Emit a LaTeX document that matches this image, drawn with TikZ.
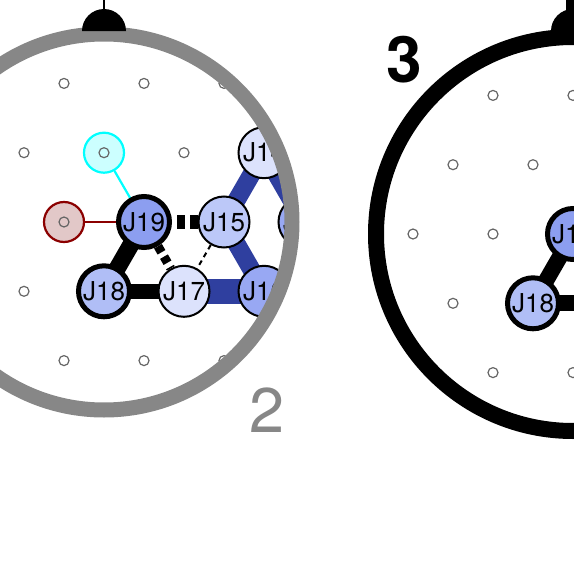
\documentclass[tikz,border=0pt]{standalone}
\usepackage{fontspec}
\setmainfont{TeX Gyre Heros}
\definecolor{ringgray}{HTML}{878787}
\definecolor{dotgray}{HTML}{666666}
\definecolor{edgeblue}{HTML}{2F3F9F}
\definecolor{nmid}{HTML}{8C9EF0}
\definecolor{nmidb}{HTML}{98A8F3}
\definecolor{nlight}{HTML}{B0BEF6}
\definecolor{nlighter}{HTML}{BCC8F8}
\definecolor{npale}{HTML}{DCE2FC}
\definecolor{cyanline}{HTML}{00FFFF}
\definecolor{cyanfill}{HTML}{CCFFFF}
\definecolor{redfill}{HTML}{E2C8C8}
\definecolor{darkred}{HTML}{8B0000}
\begin{document}
\begin{tikzpicture}[x=1pt,y=-1pt,
  jnode/.style={circle, draw=black, line width=2pt, minimum size=51pt, inner sep=0pt, font=\fontsize{26}{26}\selectfont},
  jbold/.style={jnode, line width=5pt},
  gdot/.style={draw=dotgray, line width=1.2pt},
  markcyan/.style={circle, draw=cyanline, fill=cyanfill, line width=2.2pt, minimum size=40pt, inner sep=0pt},
  markred/.style={circle, draw=darkred, fill=redfill, line width=2.2pt, minimum size=40pt, inner sep=0pt},
  blueedge/.style={draw=edgeblue, line width=18pt},
  blackedge/.style={draw=black, line width=16pt},
  dashedge/.style={draw=black, line width=14pt, dash pattern=on 8pt off 5pt, dash phase=8pt},
  dashmid/.style={draw=black, line width=9pt, dash pattern=on 7pt off 5pt},
  dashthin/.style={draw=black, line width=2pt, dash pattern=on 5pt off 4pt},
  bigtext/.style={inner sep=0pt, font=\fontsize{63}{63}\selectfont}
]
\useasboundingbox (0,0) rectangle (574,573);
\clip (0,0) rectangle (574,573);

% ---------- left panel ----------
\begin{scope}
  \clip (104,222) circle[radius=186pt];
  \node[markcyan] (cy) at (104,152.7) {};
  \node[markred] (rd) at (64,222) {};
  \foreach \x in {64,144,224} {\draw[gdot] (\x,83.4) circle[radius=5pt]; \draw[gdot] (\x,360.6) circle[radius=5pt];}
  \foreach \x in {24,104,184,264} {\draw[gdot] (\x,152.7) circle[radius=5pt]; \draw[gdot] (\x,291.3) circle[radius=5pt];}
  \foreach \x in {-16,64,144,224,304} {\draw[gdot] (\x,222) circle[radius=5pt];}
  \coordinate (pJ19) at (144,222);
  \coordinate (pJ15) at (224,222);
  \coordinate (pJ14) at (264,152.7);
  \coordinate (pJ20) at (304,222);
  \coordinate (pJ18) at (104,291.3);
  \coordinate (pJ17) at (184,291.3);
  \coordinate (pJ16) at (264,291.3);
  % edges
  \draw[blueedge] (pJ14) -- (pJ15);
  \draw[blueedge] (pJ14) -- (pJ20);
  \draw[blueedge] (pJ15) -- (pJ16);
  \draw[blueedge, line width=25pt] (pJ17) -- (pJ16);
  \draw[blackedge, line width=17pt] (pJ19) -- (pJ18);
  \draw[blackedge, line width=15pt] (pJ18) -- (pJ17);
  \draw[cyanline, line width=2.2pt] (cy) -- (pJ19);
  \draw[darkred, line width=1.8pt] (rd) -- (pJ19);
  % nodes
  \node[jnode, fill=npale] (J14) at (pJ14) {J14};
  \node[jnode, fill=nmidb] (J20) at (pJ20) {J20};
  \node[jnode, fill=nmidb] (J16) at (pJ16) {J16};
  \node[jnode, fill=nlighter] (J15) at (pJ15) {J15};
  \node[jnode, fill=npale] (J17) at (pJ17) {J17};
  \node[jbold, fill=nmid] (J19) at (pJ19) {J19};
  \node[jbold, fill=nlight] (J18) at (pJ18) {J18};
  \draw[dashedge] (J19) -- (J15);
  \draw[dashmid] (J19) -- (J17);
  \draw[dashthin] (J15) -- (J17);
\end{scope}
\draw[draw=ringgray, line width=15pt] (104,222) circle[radius=188pt];
\fill[black] (82,31) arc[start angle=180, end angle=0, radius=22pt] -- cycle;
\draw[black, line width=1.5pt] (104,0) -- (104,12);
\node[bigtext, text=ringgray] (lab2) at (267,410) {2};

% ---------- right panel ----------
\begin{scope}
  \clip (573,234) circle[radius=192pt];
  \foreach \x in {413,493,573} {\draw[gdot] (\x,95.4) circle[radius=5pt]; \draw[gdot] (\x,372.6) circle[radius=5pt];}
  \foreach \x in {373,453,533,613} {\draw[gdot] (\x,164.7) circle[radius=5pt]; \draw[gdot] (\x,303.3) circle[radius=5pt];}
  \foreach \x in {333,413,493,573} {\draw[gdot] (\x,234) circle[radius=5pt];}
  \coordinate (qJ19) at (573,234);
  \coordinate (qJ18) at (533,303.3);
  \coordinate (qJ17) at (613,303.3);
  \draw[blackedge] (qJ19) -- (qJ18);
  \draw[blackedge] (qJ18) -- (qJ17);
  \node[jnode, fill=npale] (K17) at (qJ17) {J17};
  \node[jbold, fill=nmid] (K19) at (qJ19) {J19};
  \node[jbold, fill=nlight] (K18) at (qJ18) {J18};
\end{scope}
\draw[black, line width=16pt] (573,234) circle[radius=197pt];
\fill[black] (551,31) arc[start angle=180, end angle=0, radius=22pt] -- cycle;
\fill[black] (566,0) rectangle (580,20);
\node[bigtext, font=\fontsize{64}{64}\selectfont\bfseries] (lab3) at (404,60) {3};
\end{tikzpicture}
\end{document}
